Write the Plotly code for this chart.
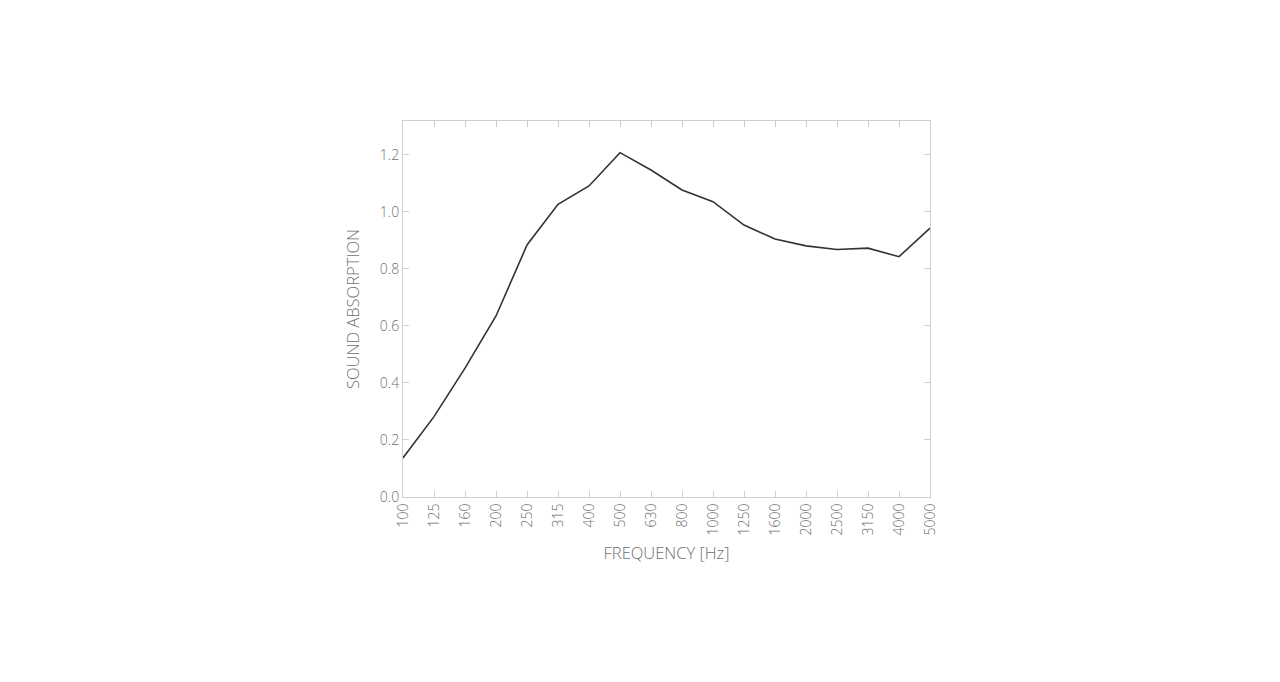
import plotly.graph_objects as go

frequencies = ["100", "125", "160", "200", "250", "315", "400", "500", "630", "800",
               "1000", "1250", "1600", "2000", "2500", "3150", "4000", "5000"]
absorption = [0.137, 0.282, 0.452, 0.635, 0.884, 1.027, 1.091, 1.208, 1.147, 1.077,
              1.036, 0.954, 0.905, 0.881, 0.868, 0.873, 0.843, 0.943]
y_ticks = [0.0, 0.2, 0.4, 0.6, 0.8, 1.0, 1.2]

font_family = "Open Sans"
text_color = "#6f6f6f"
axis_color = "#cfcfcf"

fig = go.Figure()
fig.add_trace(go.Scatter(
    x=frequencies, y=absorption, mode="lines",
    line=dict(color="#333333", width=1.6),
    showlegend=False,
))

fig.update_layout(
    width=1280, height=682,
    margin=dict(l=395, r=358, t=113, b=193),
    paper_bgcolor="white", plot_bgcolor="white",
    font=dict(family=font_family, color=text_color, size=14),
)
fig.update_xaxes(
    type="category", range=[0, 17],
    showline=True, linecolor=axis_color, linewidth=1, mirror="ticks",
    ticks="inside", ticklen=6, tickcolor=axis_color,
    tickangle=-90, showgrid=False, zeroline=False,
    tickfont=dict(size=14, color=text_color, family=font_family, weight=300),
    title=dict(text="FREQUENCY [Hz]", standoff=12,
               font=dict(size=16.5, color=text_color, family=font_family, weight=300)),
)
fig.update_yaxes(
    range=[0, 1.319], tickvals=y_ticks, tickformat=".1f",
    showline=True, linecolor=axis_color, linewidth=1, mirror="ticks",
    ticks="inside", ticklen=6, tickcolor=axis_color,
    showgrid=False, zeroline=False,
    tickfont=dict(size=14, color=text_color, family=font_family, weight=300),
    title=dict(text="SOUND ABSORPTION", standoff=16,
               font=dict(size=16.5, color=text_color, family=font_family, weight=300)),
)

fig.write_html("out.html")
